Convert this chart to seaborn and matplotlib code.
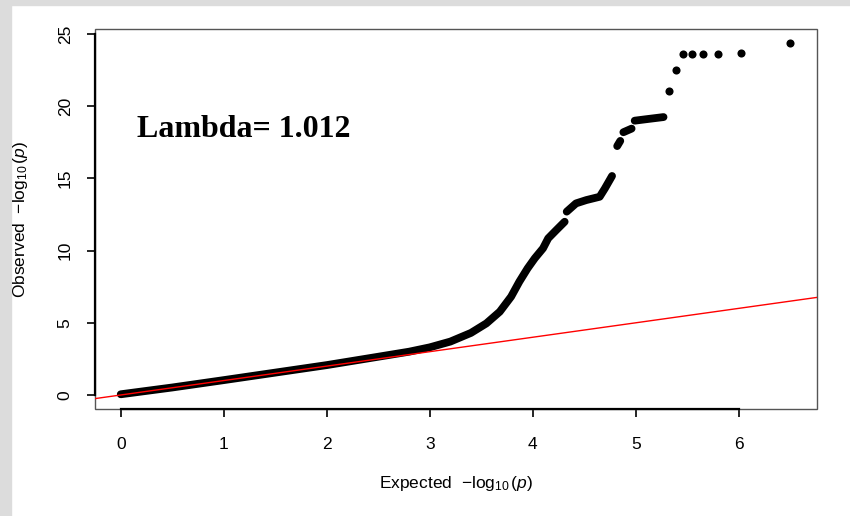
import matplotlib
matplotlib.use("Agg")
import matplotlib.pyplot as plt
from matplotlib.patches import Rectangle
import seaborn as sns
import pandas as pd

# ---- data ----
seg_main_x = [0.0, 0.5, 1.0, 1.5, 2.0, 2.5, 2.8, 3.0, 3.2, 3.4, 3.55, 3.68, 3.79, 3.87, 3.95, 4.02, 4.10, 4.15, 4.23, 4.31]
seg_main_y = [0.05, 0.52, 1.03, 1.55, 2.07, 2.65, 3.0, 3.3, 3.7, 4.3, 4.96, 5.77, 6.81, 7.85, 8.77, 9.47, 10.16, 10.85, 11.43, 12.0]
seg2_x = [4.33, 4.42, 4.52, 4.65, 4.70, 4.77]
seg2_y = [12.7, 13.27, 13.5, 13.73, 14.3, 15.17]
seg3_x = [4.82, 4.85]
seg3_y = [17.24, 17.6]
seg4_x = [4.88, 4.96]
seg4_y = [18.2, 18.45]
seg5_x = [4.99, 5.10, 5.27]
seg5_y = [19.0, 19.1, 19.25]
dots_x = [5.32, 5.39, 5.46, 5.55, 5.65, 5.80, 6.02, 6.50]
dots_y = [21.05, 22.5, 23.6, 23.6, 23.6, 23.65, 23.7, 24.35]

x_ticks = [0, 1, 2, 3, 4, 5, 6]
y_ticks = [0, 5, 10, 15, 20, 25]
lambda_text = "Lambda= 1.012"

sns.set_style("white")
plt.rcParams["font.family"] = ["Liberation Sans", "DejaVu Sans"]
plt.rcParams["mathtext.fontset"] = "custom"
plt.rcParams["mathtext.rm"] = "Liberation Sans"
plt.rcParams["mathtext.it"] = "Liberation Sans:italic"
plt.rcParams["text.color"] = "black"
plt.rcParams["axes.labelcolor"] = "black"
plt.rcParams["xtick.color"] = "black"
plt.rcParams["ytick.color"] = "black"

segs = []
for i, (xs, ys) in enumerate([(seg_main_x, seg_main_y), (seg2_x, seg2_y), (seg3_x, seg3_y),
                              (seg4_x, seg4_y), (seg5_x, seg5_y)]):
    segs.append(pd.DataFrame({"x": xs, "y": ys, "seg": i}))
df_lines = pd.concat(segs, ignore_index=True)
df_dots = pd.DataFrame({"x": dots_x, "y": dots_y})

fig = plt.figure(figsize=(8.5, 5.16), dpi=100, facecolor="white")
# gray frame strips (top and left)
fig.patches.append(Rectangle((0, 1 - 5 / 516), 1, 5 / 516, transform=fig.transFigure,
                             color="#dcdcdc", zorder=-10))
fig.patches.append(Rectangle((0, 0), 11 / 850, 1, transform=fig.transFigure,
                             color="#dcdcdc", zorder=-10))

ax = fig.add_axes([95 / 850, 1 - 409 / 516, (817 - 95) / 850, (409 - 29) / 516])
ax.set_facecolor("white")

sns.lineplot(data=df_lines, x="x", y="y", units="seg", estimator=None, color="black",
             linewidth=5.6, solid_capstyle="round", solid_joinstyle="round", sort=False,
             ax=ax, zorder=2)
sns.scatterplot(data=df_dots, x="x", y="y", color="black", s=34, linewidth=0, ax=ax, zorder=2)
ax.axline((0, 0), slope=1, color="red", linewidth=1.0, zorder=3)

ax.set_xlim(-0.25, 6.76)
ax.set_ylim(-0.97, 25.35)
ax.set_xticks(x_ticks)
ax.set_yticks(y_ticks)
ax.set_xticklabels([str(t) for t in x_ticks], fontsize=12.5)
ax.set_yticklabels([str(t) for t in y_ticks], fontsize=12.5, rotation=90, va="center")
ax.tick_params(axis="x", direction="out", length=6, width=1.2, color="black",
               bottom=True, pad=14)
ax.tick_params(axis="y", direction="out", length=6, width=1.2, color="black",
               left=True, pad=10)

for side in ["top", "right"]:
    ax.spines[side].set_visible(False)
ax.spines["bottom"].set_bounds(x_ticks[0], x_ticks[-1])
ax.spines["left"].set_bounds(y_ticks[0], y_ticks[-1])
for side in ["bottom", "left"]:
    ax.spines[side].set_color("black")
    ax.spines[side].set_linewidth(1.6)
ax.add_patch(Rectangle((0, 0), 1, 1, transform=ax.transAxes, fill=False,
                       edgecolor="#555555", linewidth=1.0, clip_on=False, zorder=1))

ax.set_xlabel(r"Expected  $-\log_{10}(p)$", fontsize=12.5, labelpad=16)
ax.set_ylabel(r"Observed  $-\log_{10}(p)$", fontsize=12.5, labelpad=20)

ax.text(0.16, 17.9, lambda_text, fontsize=23, fontweight="bold",
        family=["Liberation Serif", "DejaVu Serif"], va="baseline", ha="left")

fig.savefig("out.png", dpi=100, facecolor="white")
